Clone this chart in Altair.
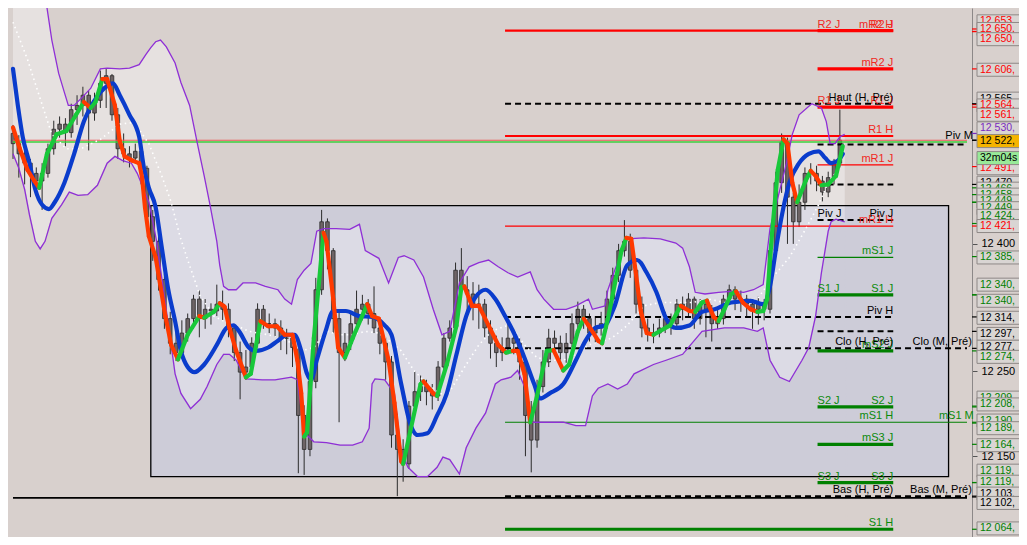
import altair as alt
import pandas as pd

# ---------------- candles (one bar every 6 time units) ----------------
opens = [12530, 12518, 12506, 12495, 12483, 12474, 12483, 12512, 12535, 12541,
         12531, 12558, 12563, 12575, 12554, 12569, 12589, 12598, 12552, 12512,
         12506, 12501, 12509, 12489, 12432, 12403, 12358, 12312, 12283, 12272,
         12295, 12312, 12335, 12312, 12323, 12321, 12329, 12323, 12301, 12272,
         12249, 12255, 12283, 12323, 12306, 12306, 12301, 12289, 12289, 12278,
         12198, 12158, 12238, 12346, 12426, 12392, 12312, 12272, 12283, 12306,
         12323, 12329, 12318, 12301, 12283, 12261, 12175, 12158, 12141, 12209,
         12226, 12232, 12226, 12221, 12255, 12289, 12301, 12369, 12346, 12341,
         12329, 12329, 12301, 12283, 12272, 12278, 12289, 12283, 12261, 12198,
         12169, 12232, 12261, 12289, 12283, 12272, 12283, 12306, 12323, 12312,
         12295, 12301, 12306, 12335, 12363, 12392, 12403, 12369, 12329, 12301,
         12295, 12295, 12301, 12312, 12306, 12329, 12323, 12335, 12312, 12329,
         12323, 12306, 12312, 12335, 12346, 12335, 12335, 12329, 12323, 12329,
         12323, 12392, 12472, 12520, 12455, 12426, 12449, 12483, 12483, 12474,
         12461, 12478, 12495]
closes = [12518, 12506, 12495, 12483, 12474, 12483, 12512, 12535, 12541, 12531,
          12558, 12563, 12575, 12554, 12569, 12589, 12598, 12552, 12512, 12506,
          12501, 12509, 12489, 12432, 12403, 12358, 12312, 12283, 12272, 12295,
          12312, 12335, 12312, 12323, 12321, 12329, 12323, 12301, 12272, 12249,
          12255, 12283, 12323, 12306, 12306, 12301, 12289, 12289, 12278, 12198,
          12158, 12238, 12346, 12426, 12392, 12312, 12272, 12283, 12306, 12323,
          12329, 12318, 12301, 12283, 12261, 12175, 12158, 12141, 12209, 12226,
          12232, 12226, 12221, 12255, 12289, 12301, 12369, 12346, 12341, 12329,
          12329, 12301, 12283, 12272, 12278, 12289, 12283, 12261, 12198, 12169,
          12232, 12261, 12289, 12283, 12272, 12283, 12306, 12323, 12312, 12295,
          12301, 12306, 12335, 12363, 12392, 12403, 12369, 12329, 12301, 12295,
          12295, 12301, 12312, 12306, 12329, 12323, 12335, 12312, 12329, 12323,
          12306, 12312, 12335, 12346, 12335, 12335, 12329, 12323, 12329, 12323,
          12392, 12472, 12520, 12455, 12426, 12449, 12483, 12483, 12474, 12461,
          12478, 12495, 12522]
highs = [12540, 12528, 12512, 12500, 12490, 12495, 12518, 12545, 12550, 12548,
         12565, 12575, 12585, 12580, 12578, 12604, 12606, 12600, 12560, 12530,
         12515, 12518, 12512, 12492, 12440, 12410, 12365, 12320, 12300, 12310,
         12318, 12340, 12345, 12335, 12330, 12352, 12345, 12330, 12305, 12285,
         12275, 12290, 12330, 12328, 12318, 12312, 12310, 12300, 12295, 12282,
         12210, 12245, 12360, 12440, 12430, 12395, 12320, 12295, 12318, 12345,
         12340, 12335, 12350, 12310, 12290, 12268, 12200, 12170, 12215, 12250,
         12245, 12240, 12235, 12262, 12295, 12310, 12378, 12395, 12362, 12355,
         12352, 12335, 12310, 12292, 12290, 12310, 12300, 12290, 12268, 12215,
         12240, 12275, 12300, 12298, 12292, 12295, 12318, 12332, 12328, 12318,
         12315, 12320, 12345, 12372, 12400, 12428, 12412, 12375, 12338, 12312,
         12306, 12312, 12320, 12318, 12335, 12338, 12342, 12338, 12335, 12332,
         12328, 12325, 12340, 12352, 12350, 12345, 12340, 12335, 12338, 12335,
         12400, 12485, 12530, 12525, 12460, 12470, 12490, 12495, 12492, 12480,
         12485, 12500, 12558]
lows = [12500, 12478, 12470, 12455, 12462, 12440, 12478, 12505, 12525, 12515,
        12525, 12540, 12550, 12510, 12545, 12560, 12560, 12545, 12500, 12496,
        12490, 12495, 12470, 12420, 12380, 12345, 12300, 12270, 12262, 12265,
        12285, 12300, 12290, 12300, 12305, 12315, 12310, 12290, 12262, 12217,
        12240, 12250, 12278, 12300, 12295, 12290, 12275, 12270, 12255, 12130,
        12128, 12150, 12230, 12340, 12370, 12295, 12190, 12262, 12275, 12300,
        12310, 12305, 12295, 12270, 12240, 12160, 12103, 12120, 12135, 12200,
        12215, 12210, 12205, 12215, 12250, 12285, 12295, 12335, 12320, 12310,
        12300, 12290, 12265, 12255, 12262, 12270, 12270, 12240, 12150, 12131,
        12160, 12225, 12255, 12268, 12255, 12260, 12278, 12300, 12300, 12285,
        12283, 12292, 12300, 12325, 12355, 12385, 12360, 12318, 12290, 12285,
        12283, 12290, 12295, 12293, 12300, 12310, 12315, 12300, 12305, 12290,
        12285, 12300, 12305, 12330, 12322, 12320, 12315, 12300, 12305, 12310,
        12318, 12385, 12460, 12400, 12400, 12420, 12440, 12470, 12462, 12450,
        12455, 12470, 12490]
bar_step = 6

# ---------------- indicators ----------------
fast_t = [0, 7, 15, 22, 27, 35, 45, 55, 65, 73, 80, 85, 92, 97, 105, 110, 115, 123, 130, 133,
          136, 140, 147, 157, 163, 170, 180, 192, 197, 207, 213, 218, 223, 230, 240, 245, 255, 263, 272, 280,
          288, 293, 297, 300, 303, 310, 320, 323, 330, 335, 342, 350, 365, 370, 377, 387, 393, 400, 402, 410,
          420, 423, 433, 437, 447, 457, 462, 465, 473, 480, 490, 500, 508, 515, 520, 527, 533, 540, 550, 557,
          567, 573, 582, 588, 593, 603, 607, 613, 627, 632, 637, 640, 647, 653, 660, 677, 688, 697, 703, 710,
          715, 722, 727, 733, 740, 745, 752, 760, 767, 773, 777, 782, 788, 794, 798, 803, 808, 817, 822, 827,
          833, 840, 848, 855]
fast_v = [12537, 12512, 12487, 12474, 12466, 12506, 12529, 12533, 12552, 12567,
          12560, 12567, 12594, 12594, 12563, 12521, 12503, 12498, 12495, 12478,
          12443, 12409, 12384, 12315, 12281, 12264, 12293, 12315, 12313, 12320,
          12330, 12326, 12301, 12274, 12243, 12247, 12309, 12303, 12303, 12293,
          12293, 12263, 12224, 12173, 12178, 12289, 12413, 12403, 12335, 12278,
          12266, 12289, 12329, 12315, 12312, 12263, 12213, 12144, 12141, 12183,
          12235, 12238, 12224, 12221, 12258, 12304, 12349, 12350, 12327, 12327,
          12304, 12281, 12272, 12274, 12274, 12247, 12190, 12221, 12274, 12275,
          12251, 12258, 12297, 12312, 12304, 12286, 12283, 12312, 12392, 12407,
          12406, 12381, 12320, 12295, 12293, 12304, 12327, 12321, 12320, 12331,
          12333, 12314, 12309, 12323, 12341, 12344, 12331, 12323, 12320, 12321,
          12335, 12411, 12487, 12523, 12518, 12472, 12449, 12475, 12486, 12480,
          12469, 12470, 12480, 12515]

blue_t = [0, 5, 10, 17, 23, 30, 37, 43, 53, 63, 73, 83, 97, 103, 110, 120, 130, 135, 140, 147,
          153, 160, 167, 173, 180, 187, 197, 210, 220, 227, 233, 243, 250, 263, 273, 283, 290, 297, 303, 307,
          313, 322, 330, 343, 357, 370, 383, 390, 400, 410, 417, 427, 437, 447, 457, 467, 477, 487, 497, 507,
          517, 527, 537, 543, 553, 567, 580, 590, 600, 610, 620, 633, 643, 653, 663, 673, 683, 697, 710, 723,
          740, 760, 773, 780, 787, 793, 800, 810, 820, 830, 837, 843, 850, 855]
blue_v = [12606, 12563, 12526, 12495, 12464, 12446, 12441, 12449, 12472, 12506,
          12544, 12567, 12586, 12589, 12575, 12552, 12526, 12489, 12466, 12443,
          12398, 12346, 12309, 12274, 12255, 12249, 12258, 12281, 12301, 12304,
          12297, 12278, 12274, 12278, 12286, 12293, 12293, 12274, 12247, 12240,
          12263, 12297, 12321, 12321, 12315, 12314, 12304, 12293, 12235, 12186,
          12175, 12177, 12198, 12224, 12270, 12315, 12338, 12346, 12335, 12315,
          12293, 12266, 12235, 12218, 12224, 12235, 12263, 12286, 12301, 12304,
          12327, 12375, 12381, 12366, 12343, 12312, 12301, 12304, 12320, 12323,
          12331, 12333, 12329, 12350, 12400, 12438, 12472, 12495, 12506, 12509,
          12501, 12495, 12498, 12506]

white_t = [0, 15, 28, 40, 55, 70, 90, 110, 125, 140, 153, 163, 172, 180, 187, 193, 200, 207, 217, 230,
           243, 263, 283, 297, 310, 323, 337, 350, 363, 377, 393, 400, 413, 427, 440, 447, 453, 467, 480, 493,
           507, 513, 527, 540, 553, 567, 580, 593, 617, 633, 650, 667, 683, 700, 717, 733, 750, 767, 783, 800,
           817, 830, 840, 850]
white_v = [12661, 12617, 12571, 12529, 12512, 12512, 12523, 12541, 12543, 12518,
           12481, 12449, 12409, 12381, 12358, 12338, 12327, 12315, 12309, 12304,
           12297, 12293, 12286, 12274, 12278, 12297, 12293, 12293, 12297, 12295,
           12281, 12274, 12251, 12235, 12224, 12221, 12232, 12258, 12281, 12297,
           12303, 12304, 12281, 12266, 12263, 12263, 12270, 12281, 12289, 12304,
           12327, 12331, 12331, 12331, 12335, 12331, 12331, 12335, 12361, 12384,
           12418, 12446, 12472, 12487]

up_t = [0, 20, 35, 40, 47, 53, 57, 63, 70, 80, 90, 97, 110, 120, 130, 137, 142, 147, 152, 158,
        167, 173, 182, 190, 197, 203, 210, 213, 217, 222, 230, 237, 250, 260, 273, 280, 287, 293, 300, 307,
        313, 320, 333, 347, 357, 363, 377, 387, 397, 403, 413, 423, 433, 442, 450, 460, 470, 480, 490, 500,
        510, 520, 533, 540, 547, 557, 570, 580, 593, 597, 610, 613, 620, 633, 650, 667, 683, 690, 697, 703,
        713, 727, 740, 753, 763, 773, 780, 787, 797, 803, 810, 823, 833, 838, 842, 847, 852, 857]
up_v = [12769, 12723, 12678, 12640, 12601, 12578, 12563, 12563, 12571, 12583,
        12606, 12607, 12606, 12607, 12611, 12623, 12631, 12638, 12640, 12632,
        12613, 12590, 12563, 12518, 12480, 12446, 12403, 12375, 12350, 12346,
        12346, 12354, 12354, 12350, 12346, 12335, 12329, 12358, 12369, 12377,
        12415, 12418, 12418, 12417, 12423, 12392, 12383, 12354, 12384, 12386,
        12381, 12361, 12323, 12293, 12297, 12354, 12373, 12378, 12381, 12373,
        12366, 12361, 12367, 12346, 12335, 12323, 12323, 12327, 12335, 12323,
        12327, 12346, 12369, 12406, 12407, 12406, 12401, 12395, 12373, 12343,
        12341, 12343, 12344, 12343, 12346, 12352, 12418, 12449, 12495, 12529,
        12552, 12565, 12560, 12544, 12518, 12518, 12526, 12529]

lo_t = [0, 6, 12, 17, 23, 28, 33, 40, 50, 58, 67, 77, 87, 97, 105, 113, 122, 128, 133, 140,
        142, 148, 155, 162, 167, 173, 183, 193, 200, 210, 217, 223, 230, 240, 257, 270, 287, 293, 300, 310,
        323, 337, 350, 360, 367, 370, 373, 383, 393, 400, 407, 417, 427, 437, 443, 450, 460, 467, 477, 487,
        497, 503, 513, 520, 527, 533, 543, 553, 567, 580, 590, 597, 603, 613, 623, 633, 640, 660, 673, 690,
        710, 733, 753, 767, 773, 780, 790, 800, 813, 820, 827, 833, 840, 843, 848, 857]
lo_v = [12506, 12489, 12464, 12434, 12403, 12394, 12403, 12430, 12446, 12461,
        12457, 12458, 12469, 12495, 12503, 12498, 12495, 12483, 12469, 12449,
        12438, 12403, 12346, 12289, 12247, 12224, 12206, 12217, 12232, 12258,
        12270, 12270, 12263, 12241, 12240, 12240, 12243, 12240, 12178, 12167,
        12166, 12163, 12163, 12167, 12183, 12235, 12241, 12240, 12224, 12155,
        12137, 12126, 12126, 12137, 12149, 12146, 12129, 12160, 12183, 12201,
        12235, 12240, 12243, 12251, 12232, 12190, 12190, 12190, 12190, 12186,
        12186, 12221, 12230, 12235, 12229, 12235, 12247, 12258, 12263, 12270,
        12297, 12301, 12301, 12297, 12301, 12263, 12243, 12238, 12263, 12278,
        12315, 12366, 12415, 12426, 12429, 12426]

# range box (time span and price range)
box_t = [142, 964]
box_v = [12126, 12445]

# ---------------- levels ----------------
lvl_kind = ["red_mid", "red_thick", "red_thick", "dash", "red_thick", "red_mid", "last", "pivm", "dash",
            "red_thin", "dash", "dash", "red_thin", "green_thin", "green_thick", "dash", "dash", "dash",
            "green_thick", "green_thick", "green_thin", "green_thick", "green_thick", "dash", "black",
            "green_thick"]
lvl_value = [12651, 12651, 12606, 12565, 12561, 12527, 12522, 12520, 12517,
             12493, 12470, 12428, 12421, 12384, 12340, 12314, 12297, 12277,
             12274, 12208, 12190, 12164, 12119, 12103, 12101, 12064]
lvl_t0 = [507, 829, 829, 507, 829, 507, 0, 0, 829, 829, 829, 829, 507, 829, 829, 507, 829, 507,
          829, 829, 507, 829, 829, 507, 0, 507]
lvl_t1 = [907, 907, 907, 907, 907, 907, 983, 983, 983, 907, 907, 907, 907, 907, 907, 907, 907, 983,
          907, 907, 983, 907, 907, 983, 983, 907]

lbl_text = ["R2 J", "R2 J", "mR2 H", "mR2 J", "Haut (H, Pré)", "R1 J", "R1 J", "R1 H", "Piv M", "mR1 J",
            "Piv J", "Piv J", "mR1 H", "mS1 J", "S1 J", "S1 J", "Piv H", "Clo (H, Pré)", "mS2 J",
            "Clo (M, Pré)", "S2 J", "S2 J", "mS1 H", "mS1 M", "mS3 J", "S3 J", "S3 J", "Bas (H, Pré)",
            "Bas (M, Pré)", "S1 H"]
lbl_value = [12651, 12651, 12651, 12606, 12565, 12561, 12561, 12527, 12520, 12493,
             12428, 12428, 12421, 12384, 12340, 12340, 12314, 12277, 12274,
             12277, 12208, 12208, 12190, 12190, 12164, 12119, 12119, 12103,
             12103, 12064]
lbl_t = [829, 907, 907, 907, 907, 829, 907, 907, 989, 907,
         829, 907, 907, 907, 829, 907, 907, 907, 907,
         988, 829, 907, 907, 990, 907, 829, 907, 907,
         988, 907]
lbl_side = ["L", "R", "R", "R", "R", "L", "R", "R", "R", "R",
            "L", "R", "R", "R", "L", "R", "R", "R", "R",
            "R", "L", "R", "R", "R", "R", "L", "R", "R",
            "R", "R"]
lbl_kind = ["R", "R", "R", "R", "P", "R", "R", "R", "P", "R",
            "P", "P", "R", "S", "S", "S", "P", "P", "S",
            "P", "S", "S", "S", "S", "S", "S", "S", "P",
            "P", "S"]

# price-axis tags: text, level price, price where the tag sits, kind
tag_text = ["12 653,", "12 650,", "12 650,", "12 606,", "12 565,", "12 564,", "12 561,", "12 530,",
            "12 491,", "12 470,", "12 466,", "12 458,", "12 449,", "12 449,", "12 424,", "12 421,",
            "12 385,", "12 340,", "12 340,", "12 314,", "12 297,", "12 277,", "12 274,", "12 209,",
            "12 208,", "12 190,", "12 189,", "12 164,", "12 119,", "12 119,", "12 103,", "12 102,",
            "12 064,", "12 522,", "32m04s"]
tag_level = [12653, 12650, 12650, 12606, 12565, 12564, 12561, 12530,
             12491, 12470, 12466, 12458, 12449, 12449, 12424, 12421,
             12385, 12340, 12340, 12314, 12297, 12277, 12274, 12209,
             12208, 12190, 12189, 12164, 12119, 12119, 12103, 12102,
             12064, 12522, 12522]
tag_at = [12662, 12653, 12641, 12605, 12571, 12563, 12552, 12536,
          12489, 12472, 12465, 12458, 12450, 12442, 12433, 12421,
          12384, 12352, 12333, 12313, 12294, 12279, 12267, 12219,
          12211, 12192, 12183, 12163, 12133, 12120, 12106, 12095,
          12065, 12521, 12501]
tag_kind = ["R", "R", "R", "R", "P", "R", "R", "V",
            "R", "P", "S", "S", "S", "S", "S", "R",
            "S", "S", "S", "P", "P", "P", "S", "S",
            "S", "S", "S", "S", "S", "S", "P", "P",
            "S", "price", "timer"]

axis_ticks = [12400, 12250, 12150]

# ---------------- styling ----------------
W, H = 964, 529
RIGHT_PAD = 47
T_DOMAIN = [0, 983]
Y_MIN, Y_MAX = 12054.9, 12677.7
BG = "#d8d0cd"
BAND_OUT = "#e6e1e0"
BOX_FILL = "#cdccd8"
BAND_IN = "#dcdbe5"
RED = "#ff0000"
GREEN = "#008000"
TXT_RED = "#f0281e"
TXT_GREEN = "#0a8a0a"
FONT = "Liberation Sans"

LINE_STYLE = {
    "red_thick": (RED, 3.2, []),
    "red_mid": (RED, 2.2, []),
    "red_thin": (RED, 1.2, []),
    "green_thick": (GREEN, 3.2, []),
    "green_thin": (GREEN, 1.2, []),
    "dash": ("#000000", 2, [6, 4]),
    "black": ("#000000", 1.8, []),
    "last": ("#ec5a5a", 1.1, []),
    "pivm": ("#3ccf3c", 1.6, []),
}
TEXT_COLOR = {"R": TXT_RED, "S": TXT_GREEN, "P": "#000000"}
TAG_STYLE = {
    "R": ("#ff0000", "#d9d5d3"),
    "S": ("#008000", "#d9d5d3"),
    "P": ("#000000", "#d9d5d3"),
    "V": ("#7a2cc0", "#d9d5d3"),
    "price": ("#000000", "#f5b400"),
    "timer": ("#000000", "#98ea98"),
}

XS = alt.Scale(domain=T_DOMAIN, nice=False, zero=False)
YS = alt.Scale(domain=[Y_MIN, Y_MAX], nice=False, zero=False)
YAX = alt.Axis(orient="right", values=axis_ticks, title=None, grid=False,
               labelExpr="replace(format(datum.value, ',d'), ',', ' ')",
               domainColor="#8c8888", tickColor="#555555", tickSize=5,
               labelFont=FONT, labelFontSize=11, labelColor="#000000", labelPadding=4)


def X(field):
    return alt.X(field, type="quantitative", scale=XS, axis=None)


def Y(field):
    return alt.Y(field, type="quantitative", scale=YS, axis=YAX)


# ---------------- data frames ----------------
candles = pd.DataFrame({"t": [i * bar_step for i in range(len(closes))],
                        "open": opens, "close": closes, "high": highs, "low": lows})
up_df = pd.DataFrame({"t": up_t, "v": up_v})
lo_df = pd.DataFrame({"t": lo_t, "v": lo_v})
# fill helper: the area below the lower band closes just past its last point so
# that no seam of the band fill shows at the band's right end
lo_fill_df = pd.concat([lo_df, pd.DataFrame({"t": [lo_t[-1] + 2], "v": [Y_MIN]})], ignore_index=True)
blue_df = pd.DataFrame({"t": blue_t, "v": blue_v})
white_df = pd.DataFrame({"t": white_t, "v": white_v})
seg_rows = []
for i in range(len(fast_t) - 1):
    d = "up" if fast_v[i + 1] > fast_v[i] else "down"
    seg_rows.append({"seg": i, "t": fast_t[i], "v": fast_v[i], "dir": d})
    seg_rows.append({"seg": i, "t": fast_t[i + 1], "v": fast_v[i + 1], "dir": d})
fast_df = pd.DataFrame(seg_rows)
box_df = pd.DataFrame({"t0": [box_t[0]], "t1": [box_t[1]], "lo": [box_v[0]], "hi": [box_v[1]]})
lvl_df = pd.DataFrame({"kind": lvl_kind, "v": lvl_value, "t0": lvl_t0, "t1": lvl_t1})
lbl_df = pd.DataFrame({"text": lbl_text, "v": lbl_value, "t": lbl_t, "side": lbl_side, "kind": lbl_kind})
tag_df = pd.DataFrame({"text": tag_text, "level": tag_level, "at": tag_at, "kind": tag_kind})

BOX_LO, BOX_HI = box_v
in_box = (alt.datum.t >= box_t[0]) & (alt.datum.t <= box_t[1])
clamp_expr = f"clamp(datum.v, {BOX_LO}, {BOX_HI})"

layers = []
# band fill outside the box
layers.append(alt.Chart(up_df).mark_area(color=BAND_OUT, clip=True).encode(
    x=X("t"), y=Y("v"), y2=alt.datum(Y_MIN)))
layers.append(alt.Chart(lo_fill_df).mark_area(color=BG, stroke=BG, strokeWidth=1.5, clip=True).encode(
    x=X("t"), y=Y("v"), y2=alt.datum(Y_MIN)))
# box
layers.append(alt.Chart(box_df).mark_rect(color=BOX_FILL).encode(
    x=X("t0"), x2="t1", y=Y("lo"), y2="hi"))
layers.append(alt.Chart(up_df).transform_filter(in_box).transform_calculate(vc=clamp_expr)
              .mark_area(color=BAND_IN, clip=True).encode(x=X("t"), y=Y("vc"), y2=alt.datum(BOX_LO)))
layers.append(alt.Chart(lo_fill_df).transform_filter(in_box).transform_calculate(vc=clamp_expr)
              .mark_area(color=BOX_FILL, stroke=BOX_FILL, strokeWidth=1.5, clip=True)
              .encode(x=X("t"), y=Y("vc"), y2=alt.datum(BOX_LO)))
layers.append(alt.Chart(box_df).mark_rect(filled=False, stroke="#000000", strokeWidth=1.3).encode(
    x=X("t0"), x2="t1", y=Y("lo"), y2="hi"))

# candles
layers.append(alt.Chart(candles).mark_rule(color="#2b2b2b", strokeWidth=1, clip=True).encode(
    x=X("t"), y=Y("low"), y2="high"))
layers.append(alt.Chart(candles).mark_bar(width=3.6, color="#6e6466", stroke="#2b2b2b",
                                          strokeWidth=0.8, clip=True).encode(
    x=X("t"), y=Y("open"), y2="close"))

# level lines
for kind, (col, sw, dash) in LINE_STYLE.items():
    mk = dict(color=col, strokeWidth=sw, clip=True)
    if dash:
        mk["strokeDash"] = dash
    layers.append(alt.Chart(lvl_df).transform_filter(alt.datum.kind == kind)
                  .mark_rule(**mk).encode(x=X("t0"), x2="t1", y=Y("v")))

# indicator lines
layers.append(alt.Chart(white_df).mark_line(color="#ffffff", strokeWidth=1.6, strokeDash=[1.5, 3.5],
                                            clip=True).encode(x=X("t"), y=Y("v")))
layers.append(alt.Chart(up_df).mark_line(color="#8f2fd6", strokeWidth=1.3, clip=True).encode(
    x=X("t"), y=Y("v")))
layers.append(alt.Chart(lo_df).mark_line(color="#8f2fd6", strokeWidth=1.3, clip=True).encode(
    x=X("t"), y=Y("v")))
layers.append(alt.Chart(blue_df).mark_line(color="#0a3ccc", strokeWidth=4.2, interpolate="monotone",
                                           strokeCap="round", clip=True).encode(x=X("t"), y=Y("v")))
layers.append(alt.Chart(fast_df).mark_line(strokeWidth=4.2, strokeCap="round", clip=True).encode(
    x=X("t"), y=Y("v"), detail="seg:N",
    color=alt.Color("dir:N", scale=alt.Scale(domain=["up", "down"], range=["#18c83a", "#ff3a00"]),
                    legend=None)))

# level labels
for kind, col in TEXT_COLOR.items():
    for side, al in (("L", "left"), ("R", "right")):
        layers.append(alt.Chart(lbl_df).transform_filter((alt.datum.kind == kind) & (alt.datum.side == side))
                      .mark_text(align=al, baseline="bottom", dy=-1, font=FONT, fontSize=11, color=col)
                      .encode(x=X("t"), y=Y("v"), text="text:N"))

# price-axis tags
for kind, (tcol, fill) in TAG_STYLE.items():
    layers.append(alt.Chart(tag_df).transform_filter(alt.datum.kind == kind)
                  .mark_rule(color=tcol, strokeWidth=1.2)
                  .encode(x=alt.value(W), x2=alt.value(W + 5), y=Y("level")))
for i in range(len(tag_df)):
    row = tag_df.iloc[[i]]
    tcol, fill = TAG_STYLE[tag_df["kind"][i]]
    layers.append(alt.Chart(row).mark_rect(fill=fill, stroke="#8e8886", strokeWidth=1,
                                           yOffset=-6.5, y2Offset=6.5)
                  .encode(x=alt.value(W + 5), x2=alt.value(W + RIGHT_PAD + 10), y=Y("at"), y2="at"))
    layers.append(alt.Chart(row).mark_text(align="left", baseline="middle", font=FONT, fontSize=10.5,
                                           color=tcol)
                  .encode(x=alt.value(W + 8), y=Y("at"), text="text:N"))

chart = alt.layer(*layers).properties(
    width=W, height=H, background=BG,
    padding={"left": 0, "top": 0, "right": RIGHT_PAD, "bottom": 0},
    autosize=alt.AutoSizeParams(type="none"),
).configure_view(fill=BG, strokeWidth=0)

chart.save("out.html", embed_options={"renderer": "svg", "actions": False})
